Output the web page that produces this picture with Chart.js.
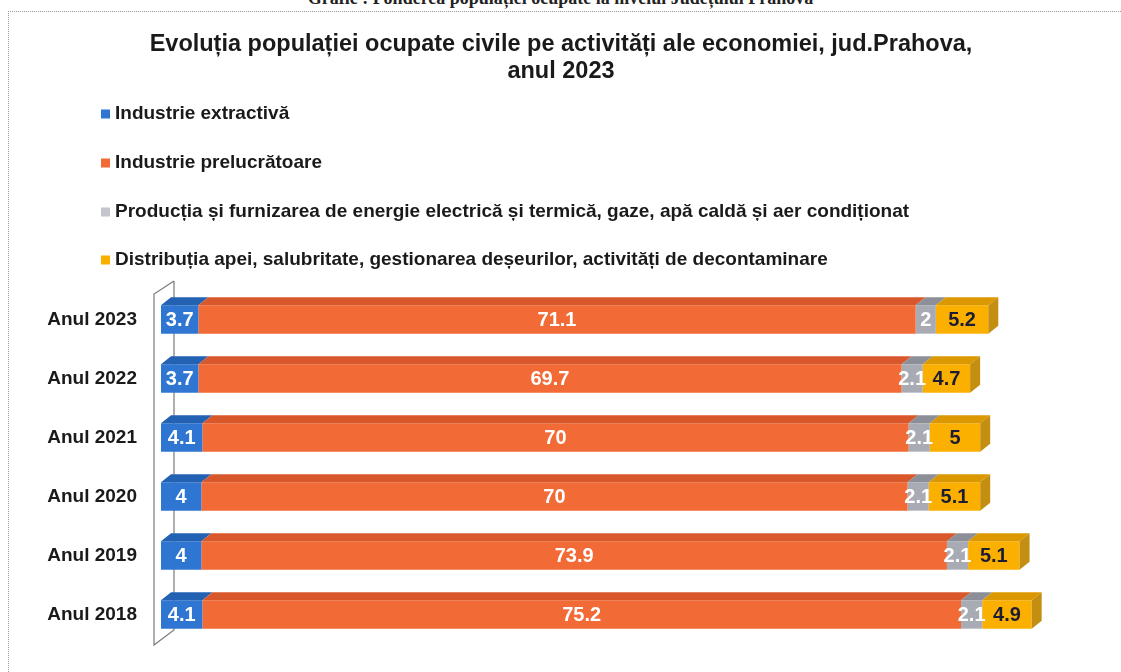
<!DOCTYPE html>
<html>
<head>
<meta charset="utf-8">
<script src="https://cdn.jsdelivr.net/npm/chart.js@4.4.1/dist/chart.umd.min.js"></script>
<style>
  html, body { margin: 0; padding: 0; background: #fff; }
  #wrap { position: relative; width: 1121px; height: 672px; overflow: hidden; }
  #caption { position: absolute; top: -12px; left: 0; width: 1121px; text-align: center;
    font-family: "Liberation Serif", serif; font-size: 18px; font-weight: bold; color: #222; }
  #frame { position: absolute; left: 8px; top: 11px; width: 1120px; height: 700px;
    border-top: 1px dotted #999; border-left: 1px dotted #999; }
  canvas { position: absolute; left: 0; top: 0; }
</style>
</head>
<body>
<div id="wrap">
  <div id="caption">Grafic : Ponderea populației ocupate la nivelul Județului Prahova</div>
  <div id="frame"></div>
  <canvas id="barChart" width="1121" height="672"></canvas>
</div>
<script>
var categories = ['Anul 2023', 'Anul 2022', 'Anul 2021', 'Anul 2020', 'Anul 2019', 'Anul 2018'];
var seriesNames = [
  'Industrie extractivă',
  'Industrie prelucrătoare',
  'Producția și furnizarea de energie electrică și termică, gaze, apă caldă și aer condiționat',
  'Distribuția apei, salubritate, gestionarea deșeurilor, activități de decontaminare'
];
var extractiva = [3.7, 3.7, 4.1, 4, 4, 4.1];
var prelucratoare = [71.1, 69.7, 70, 70, 73.9, 75.2];
var energie = [2, 2.1, 2.1, 2.1, 2.1, 2.1];
var apa = [5.2, 4.7, 5, 5.1, 5.1, 4.9];
var titleLines = ['Evoluția populației ocupate civile pe activități ale economiei, jud.Prahova,', 'anul 2023'];

var frontColors = ['#2f76d2', '#f26a36', '#a9abb4', '#fbb000'];
var topColors = ['#2361b3', '#d8582b', '#8d8f98', '#dc9800'];
var legendColors = ['#2f76d2', '#f26a36', '#c3c4cc', '#fbb000'];
var labelColors = ['#ffffff', '#ffffff', '#ffffff', '#1c1c34'];

var DX = 10, DY = 8;

var bars3d = {
  id: 'bars3d',
  beforeDatasetsDraw: function (chart) {
    var ctx = chart.ctx, a = chart.chartArea;
    ctx.save();
    ctx.strokeStyle = '#7a7a7a';
    ctx.lineWidth = 1.2;
    ctx.beginPath();
    var l = a.left - 7, r = a.left + 13;
    ctx.moveTo(r, a.top - 9);
    ctx.lineTo(l, a.top + 4);
    ctx.lineTo(l, a.bottom + 1);
    ctx.lineTo(r, a.bottom - 14);
    ctx.lineTo(r, a.top - 9);
    ctx.stroke();
    ctx.restore();
  },
  afterDatasetsDraw: function (chart) {
    var ctx = chart.ctx;
    var n = chart.data.datasets.length;
    ctx.save();
    chart.data.datasets.forEach(function (ds, di) {
      var meta = chart.getDatasetMeta(di);
      meta.data.forEach(function (bar, i) {
        var top = bar.y - bar.height / 2, bottom = bar.y + bar.height / 2;
        var x0 = Math.min(bar.base, bar.x), x1 = Math.max(bar.base, bar.x);
        ctx.fillStyle = topColors[di];
        ctx.beginPath();
        ctx.moveTo(x0, top);
        ctx.lineTo(x1, top);
        ctx.lineTo(x1 + DX, top - DY);
        ctx.lineTo(x0 + DX, top - DY);
        ctx.closePath();
        ctx.fill();
        if (di === n - 1) {
          ctx.fillStyle = '#c48f10';
          ctx.beginPath();
          ctx.moveTo(x1, top);
          ctx.lineTo(x1 + DX, top - DY);
          ctx.lineTo(x1 + DX, bottom - DY);
          ctx.lineTo(x1, bottom);
          ctx.closePath();
          ctx.fill();
        }
      });
    });
    // value labels
    ctx.textAlign = 'center';
    ctx.textBaseline = 'middle';
    chart.data.datasets.forEach(function (ds, di) {
      var meta = chart.getDatasetMeta(di);
      ctx.fillStyle = labelColors[di];
      ctx.font = 'bold 20px "Liberation Sans", Arial';
      meta.data.forEach(function (bar, i) {
        ctx.fillText(String(ds.data[i]), (bar.base + bar.x) / 2, bar.y + 1);
      });
    });
    ctx.restore();
  },
  afterDraw: function (chart) {
    var ctx = chart.ctx;
    ctx.save();
    ctx.textBaseline = 'middle';
    // title
    ctx.fillStyle = '#1a1a1a';
    ctx.textAlign = 'center';
    ctx.font = 'bold 23.5px "Liberation Sans", Arial';
    ctx.fillText(titleLines[0], 561, 45);
    ctx.fillText(titleLines[1], 561, 72);
    // legend
    ctx.font = 'bold 19px "Liberation Sans", Arial';
    ctx.textAlign = 'left';
    var ys = [114, 163, 212, 260];
    seriesNames.forEach(function (name, i) {
      ctx.fillStyle = legendColors[i];
      ctx.fillRect(101, ys[i] - 4.5, 9, 9);
      ctx.fillStyle = '#1a1a1a';
      ctx.fillText(name, 115, ys[i]);
    });
    ctx.restore();
  }
};

var ctxB = document.getElementById('barChart').getContext('2d');
var myBarChart = new Chart(ctxB, {
  type: 'bar',
  data: {
    labels: categories,
    datasets: [
      { label: seriesNames[0], data: extractiva, backgroundColor: frontColors[0] },
      { label: seriesNames[1], data: prelucratoare, backgroundColor: frontColors[1] },
      { label: seriesNames[2], data: energie, backgroundColor: frontColors[2] },
      { label: seriesNames[3], data: apa, backgroundColor: frontColors[3] }
    ]
  },
  options: {
    responsive: false,
    animation: false,
    indexAxis: 'y',
    barPercentage: 0.48,
    categoryPercentage: 1,
    layout: { padding: { left: 40, right: 52, top: 290, bottom: 28 } },
    plugins: {
      legend: { display: false },
      tooltip: { enabled: false },
      title: { display: false }
    },
    scales: {
      x: { stacked: true, min: 0, max: 90, display: false },
      y: {
        stacked: true,
        grid: { display: false, drawTicks: false },
        border: { display: false },
        ticks: {
          padding: 24,
          color: '#1a1a1a',
          font: { family: '"Liberation Sans", Arial', size: 19, weight: 'bold' }
        },
        afterFit: function (scale) {
          scale.width = 121;
          scale.paddingTop = 0;
          scale.paddingBottom = 0;
        }
      }
    }
  },
  plugins: [bars3d]
});
</script>
</body>
</html>
